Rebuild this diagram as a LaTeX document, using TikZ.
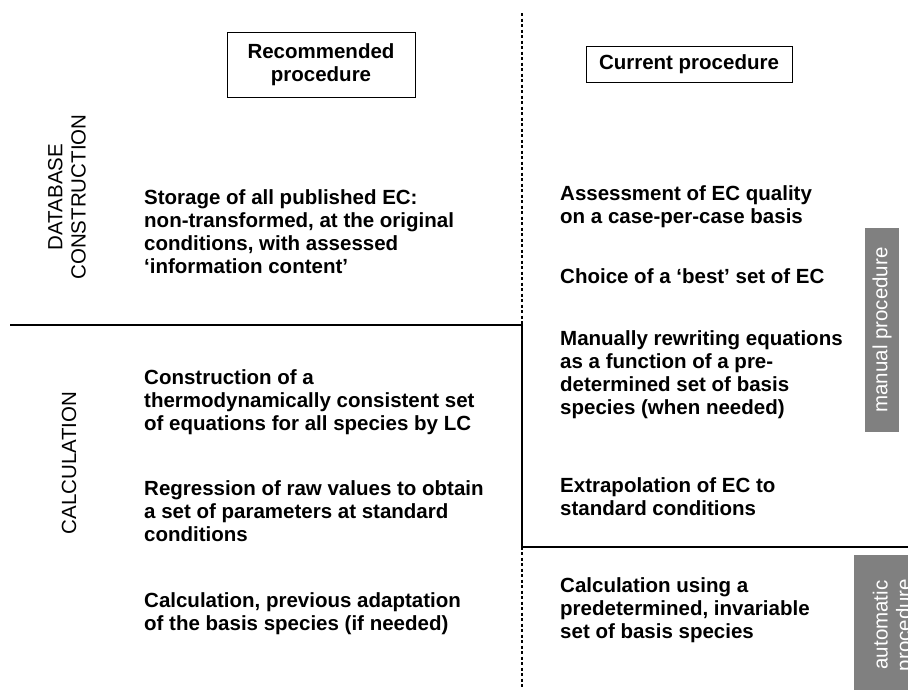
\documentclass[tikz,border=0pt]{standalone}
\usepackage{fontspec}
\setmainfont{Liberation Sans}
\usepackage{xcolor}
\usepackage{tikz}
\usetikzlibrary{positioning}
\newcommand{\bodyfont}{\fontsize{20.5}{23.3}\selectfont}
\tikzstyle{headbox} = [draw=black, thick, fill=white, align=center,
font=\bfseries\bodyfont, inner sep=0pt]
\tikzstyle{bodytext} = [anchor=north west, align=left, inner sep=0pt,
font=\bfseries\bodyfont]
\tikzstyle{sidelabel} = [rotate=90, align=center, inner sep=0pt,
font=\bodyfont]
\tikzstyle{graybar} = [fill=black!50, text=white, rotate=90, align=center,
inner sep=0pt, font=\bodyfont]

\begin{document}
\begin{tikzpicture}[x=1pt, y=-1pt]
        \useasboundingbox (0,0) rectangle (908,689);
        \clip (0,0) rectangle (908,689);
        % column split and the two section borders
        \coordinate (top) at (522,13);
        \coordinate (bottom) at (522,689);
        \coordinate (lstart) at (10,325);
        \coordinate (lcorner) at (522,325);
        \coordinate (rcorner) at (522,547);
        \coordinate (rend) at (908,547);
        \draw[line width=1.2pt, dash pattern=on 3pt off 2.5pt] (top) -- (bottom);
        \draw[line width=2.4pt] (lstart) -- (lcorner) -- (rcorner) -- (rend);

        % headers
        \node [headbox, minimum width=188, minimum height=65] (recbox)
            at (321,64.5) {Recommended\\procedure};
        \node [headbox, minimum width=206, minimum height=36] (curbox)
            at (689,64) {Current procedure};

        % left margin labels
        \node [sidelabel] (dblabel) at (67,197) {DATABASE\\CONSTRUCTION};
        \node [sidelabel] (calclabel) at (69,463) {CALCULATION};

        % recommended procedure
        \node [bodytext] (storage) at (144,189) {Storage of all published EC:\\
            non-transformed, at the original\\
            conditions, with assessed\\
            `information content'};
        \node [bodytext] (construct) at (144,369) {Construction of a\\
            thermodynamically consistent set\\
            of equations for all species by LC};
        \node [bodytext] (regress) at (144,480) {Regression of raw values to obtain\\
            a set of parameters at standard\\
            conditions};
        \node [bodytext] (adapt) at (144,592) {Calculation, previous adaptation\\
            of the basis species (if needed)};

        % current procedure
        \node [bodytext] (assess) at (560,185) {Assessment of EC quality\\
            on a case-per-case basis};
        \node [bodytext] (choice) at (560,268) {Choice of a `best' set of EC};
        \node [bodytext] (rewrite) at (560,330) {Manually rewriting equations\\
            as a function of a pre-\\
            determined set of basis\\
            species (when needed)};
        \node [bodytext] (extrap) at (560,477) {Extrapolation of EC to\\
            standard conditions};
        \node [bodytext] (invariable) at (560,577) {Calculation using a\\
            predetermined, invariable\\
            set of basis species};

        % side bars
        \node [graybar, minimum width=204, minimum height=34] (manual)
            at (882,330) {manual procedure};
        \node [graybar, minimum width=140, minimum height=80] (automatic)
            at (894,625) {automatic\\procedure};
    \end{tikzpicture}
\end{document}
